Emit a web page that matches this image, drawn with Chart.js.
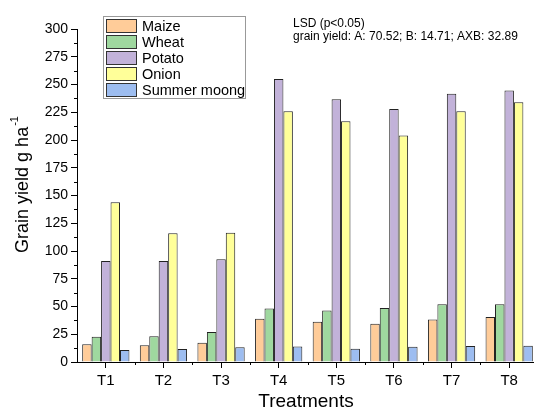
<!DOCTYPE html>
<html>
<head>
<meta charset="utf-8">
<script src="https://cdn.jsdelivr.net/npm/chart.js@4.4.1/dist/chart.umd.min.js"></script>
<style>
  html, body { margin: 0; padding: 0; background: #fff; overflow: hidden; }
  #wrap { width: 545px; height: 411px; }
</style>
</head>
<body>
<div id="wrap"><canvas id="chart" width="545" height="411"></canvas></div>
<script>
const treatments = ['T1', 'T2', 'T3', 'T4', 'T5', 'T6', 'T7', 'T8'];
const maize  = [16, 15, 17.4, 39, 36.3, 34.5, 38.4, 40.5];
const wheat  = [22.8, 23.1, 27, 48.3, 46.5, 48.6, 52, 52];
const potato = [91, 91, 92.5, 255, 236.6, 228, 241.7, 244.7];
const onion  = [144, 116, 116.5, 226, 217, 204, 225.8, 234];
const moong  = [10.8, 11.7, 13.2, 14, 12, 13.8, 14.4, 14.7];

const seriesNames = ['Maize', 'Wheat', 'Potato', 'Onion', 'Summer moong'];
const seriesColors = ['#FFCC99', '#9FD89F', '#C2B2D9', '#FFFF99', '#9DBDF0'];
const seriesData = [maize, wheat, potato, onion, moong];

const FONT = '"Liberation Sans", Arial, sans-serif';

// minor ticks, legend box, titles and note
const extras = {
  id: 'extras',
  afterDraw(chart) {
    const ctx = chart.ctx;
    const x = chart.scales.x, y = chart.scales.y;
    const area = chart.chartArea;
    ctx.save();
    ctx.strokeStyle = '#000';
    ctx.lineWidth = 1;
    // y minor ticks
    for (let v = 12.5; v < 300; v += 25) {
      const py = Math.round(y.getPixelForValue(v)) + 0.5;
      ctx.beginPath();
      ctx.moveTo(area.left - 3, py);
      ctx.lineTo(area.left, py);
      ctx.stroke();
    }
    // x minor ticks at category boundaries
    const step = (area.right - area.left) / treatments.length;
    for (let i = 1; i < treatments.length; i++) {
      const px = Math.round(area.left + i * step) + 0.5;
      ctx.beginPath();
      ctx.moveTo(px, area.bottom);
      ctx.lineTo(px, area.bottom + 3);
      ctx.stroke();
    }

    // legend
    const lx = 103, ly = 16, lw = 142, lh = 82;
    ctx.fillStyle = '#fff';
    ctx.fillRect(lx, ly, lw, lh);
    ctx.strokeStyle = '#999';
    ctx.strokeRect(lx + 0.5, ly + 0.5, lw, lh);
    ctx.font = '14.5px ' + FONT;
    ctx.textBaseline = 'middle';
    ctx.textAlign = 'left';
    chart.data.datasets.forEach((ds, i) => {
      const ry = ly + 3 + i * 16;
      ctx.fillStyle = ds.backgroundColor;
      ctx.fillRect(lx + 3, ry, 31, 14);
      ctx.strokeStyle = '#333';
      ctx.strokeRect(lx + 3.5, ry + 0.5, 30, 13);
      ctx.fillStyle = '#000';
      ctx.fillText(ds.label, lx + 39, ry + 8);
    });

    // note
    ctx.font = '12px ' + FONT;
    ctx.fillStyle = '#000';
    ctx.fillText('LSD (p<0.05)', 293, 24);
    ctx.fillText('grain yield: A: 70.52; B: 14.71; AXB: 32.89', 293, 37);

    // x title
    ctx.font = '19px ' + FONT;
    ctx.textAlign = 'center';
    ctx.textBaseline = 'middle';
    ctx.fillText('Treatments', 306, 402);

    // y title with superscript
    ctx.translate(23, 185);
    ctx.rotate(-Math.PI / 2);
    ctx.font = '18px ' + FONT;
    const main = 'Grain yield g ha';
    const sup = '-1';
    const mw = ctx.measureText(main).width;
    ctx.font = '11px ' + FONT;
    const sw = ctx.measureText(sup).width;
    const start = -(mw + sw) / 2;
    ctx.textAlign = 'left';
    ctx.font = '18px ' + FONT;
    ctx.fillText(main, start, 0);
    ctx.font = '11px ' + FONT;
    ctx.fillText(sup, start + mw + 1, -8);
    ctx.restore();
  }
};

new Chart(document.getElementById('chart'), {
  type: 'bar',
  data: {
    labels: treatments,
    datasets: seriesNames.map((name, i) => ({
      label: name,
      data: seriesData[i],
      backgroundColor: seriesColors[i],
      borderColor: '#222',
      borderWidth: 1,
      borderSkipped: 'bottom',
      categoryPercentage: 0.82,
      barPercentage: 1.0
    }))
  },
  options: {
    responsive: false,
    animation: false,
    layout: { padding: { top: 29, right: 7, left: 0, bottom: 0 } },
    plugins: {
      legend: { display: false },
      tooltip: { enabled: false }
    },
    scales: {
      x: {
        grid: { display: true, drawOnChartArea: false, drawTicks: true, tickLength: 6, color: '#000', offset: false },
        border: { color: '#000', width: 1 },
        ticks: { color: '#000', font: { family: FONT, size: 15 }, padding: 4, maxRotation: 0 },
        afterFit(scale) { scale.height = 49; }
      },
      y: {
        min: 0,
        max: 300,
        grid: { display: true, drawOnChartArea: false, drawTicks: true, tickLength: 6, color: '#000' },
        border: { color: '#000', width: 1 },
        ticks: { stepSize: 25, color: '#000', font: { family: FONT, size: 14 }, padding: 3 },
        afterFit(scale) { scale.width = 77; }
      }
    }
  },
  plugins: [extras]
});
</script>
</body>
</html>
